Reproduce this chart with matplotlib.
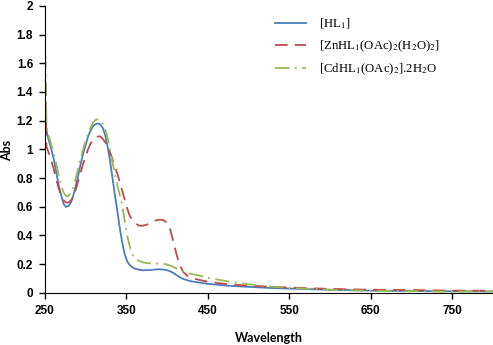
import matplotlib
matplotlib.use("Agg")
import matplotlib.pyplot as plt

wavelength = [250, 252, 255, 258, 261, 264, 267, 270, 273, 276, 279, 282, 285, 288, 291, 294,
              297, 300, 303, 306, 309, 312, 315, 318, 321, 324, 327, 330, 333, 336, 339, 342,
              345, 348, 351, 354, 357, 360, 365, 370, 375, 380, 385, 390, 395, 400, 404, 408,
              412, 416, 420, 425, 430, 440, 450, 475, 500, 525, 550, 600, 650, 700, 750, 800]

hl1 = [1.25, 1.13, 1.06, 1.00, 0.93, 0.84, 0.75, 0.68, 0.62, 0.60, 0.605, 0.63, 0.68, 0.75, 0.82, 0.90,
       0.97, 1.03, 1.09, 1.13, 1.16, 1.175, 1.18, 1.175, 1.15, 1.10, 1.02, 0.92, 0.80, 0.68, 0.57, 0.45,
       0.35, 0.27, 0.22, 0.195, 0.18, 0.17, 0.162, 0.158, 0.158, 0.16, 0.163, 0.165, 0.163, 0.158, 0.15, 0.138,
       0.122, 0.108, 0.097, 0.088, 0.08, 0.072, 0.063, 0.05, 0.042, 0.035, 0.03, 0.022, 0.016, 0.013, 0.011, 0.01]

zn = [1.60, 1.02, 0.97, 0.92, 0.86, 0.79, 0.73, 0.68, 0.645, 0.63, 0.63, 0.645, 0.67, 0.72, 0.78, 0.84,
      0.90, 0.95, 1.00, 1.04, 1.065, 1.08, 1.09, 1.09, 1.075, 1.05, 1.02, 0.98, 0.93, 0.88, 0.83, 0.77,
      0.71, 0.65, 0.59, 0.54, 0.51, 0.49, 0.47, 0.468, 0.475, 0.49, 0.503, 0.51, 0.508, 0.49, 0.44, 0.35,
      0.26, 0.19, 0.145, 0.118, 0.104, 0.09, 0.078, 0.06, 0.05, 0.043, 0.037, 0.028, 0.022, 0.02, 0.016, 0.015]

cd = [1.85, 1.16, 1.09, 1.03, 0.97, 0.90, 0.82, 0.75, 0.70, 0.675, 0.675, 0.70, 0.74, 0.80, 0.87, 0.94,
      1.00, 1.06, 1.11, 1.15, 1.185, 1.205, 1.21, 1.20, 1.18, 1.14, 1.08, 1.00, 0.91, 0.83, 0.75, 0.68,
      0.61, 0.50, 0.40, 0.33, 0.27, 0.245, 0.225, 0.213, 0.208, 0.205, 0.204, 0.204, 0.203, 0.198, 0.19, 0.18,
      0.168, 0.157, 0.148, 0.14, 0.132, 0.12, 0.105, 0.08, 0.06, 0.045, 0.035, 0.022, 0.015, 0.012, 0.01, 0.01]

labels = [r'[HL$_1$]', r'[ZnHL$_1$(OAc)$_2$(H$_2$O)$_2$]', r'[CdHL$_1$(OAc)$_2$].2H$_2$O']
x_ticks = [250, 350, 450, 550, 650, 750]
y_ticks = [0, 0.2, 0.4, 0.6, 0.8, 1, 1.2, 1.4, 1.6, 1.8, 2]

plt.rcParams['font.family'] = ['Liberation Sans', 'DejaVu Sans']
plt.rcParams['mathtext.fontset'] = 'stix'

fig = plt.figure(figsize=(4.93, 3.45), dpi=100)
ax = fig.add_axes([0.091, 0.151, 0.909, 0.832])

ax.plot(wavelength, hl1, color='#4a7ebb', lw=1.3, label=labels[0])
ax.plot(wavelength, zn, color='#be4b48', lw=1.3, dashes=(7, 4), label=labels[1])
ax.plot(wavelength, cd, color='#98b954', lw=1.3, dashes=(8, 3, 1, 3), label=labels[2])

ax.set_xlim(250, 800)
ax.set_ylim(0, 2)
ax.set_xticks(x_ticks)
ax.set_yticks(y_ticks)
ax.set_yticklabels(['%g' % v for v in y_ticks])
ax.tick_params(direction='out', length=4.5, width=1, labelsize=8.5, pad=4)
for lab in ax.get_xticklabels() + ax.get_yticklabels():
    lab.set_fontweight('bold')
ax.spines['top'].set_visible(False)
ax.spines['right'].set_visible(False)
ax.set_xlabel('Wavelength', fontsize=9, fontweight='bold', family=['Lato', 'DejaVu Sans'], labelpad=11)
ax.set_ylabel('Abs', fontsize=9, fontweight='bold', family=['Lato', 'DejaVu Sans'], va='center')
ax.yaxis.set_label_coords(-0.084, 0.495)

leg = ax.legend(loc='upper left', bbox_to_anchor=(0.535, 0.985), bbox_transform=fig.transFigure,
                frameon=False, prop={'family': 'Liberation Serif', 'size': 9.2},
                handlelength=2.4, labelspacing=0.6, handletextpad=1.0)

fig.savefig('out.png', dpi=100)
